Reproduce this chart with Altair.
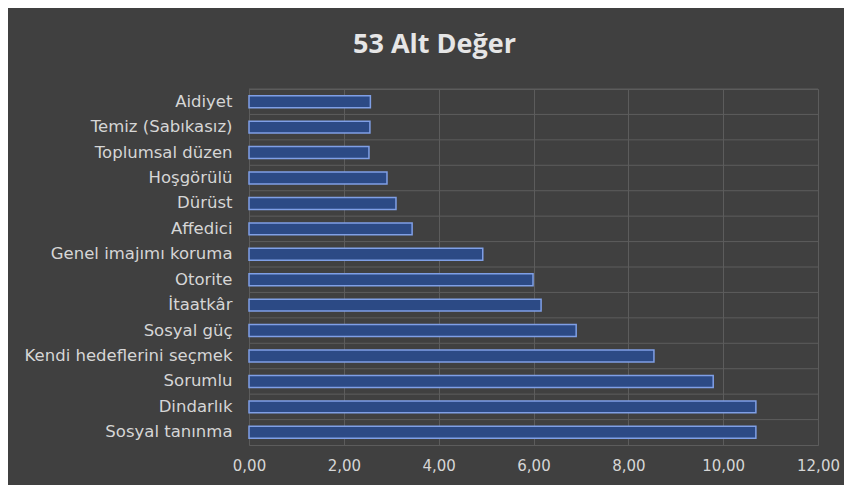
import altair as alt
import pandas as pd

categories = [
    "Aidiyet", "Temiz (Sabıkasız)", "Toplumsal düzen", "Hoşgörülü", "Dürüst",
    "Affedici", "Genel imajımı koruma", "Otorite", "İtaatkâr", "Sosyal güç",
    "Kendi hedeflerini seçmek", "Sorumlu", "Dindarlık", "Sosyal tanınma",
]
values = [2.56, 2.55, 2.53, 2.91, 3.10, 3.44, 4.93, 5.99, 6.16, 6.90,
          8.54, 9.79, 10.69, 10.69]
x_ticks = [0, 2, 4, 6, 8, 10, 12]

df = pd.DataFrame({"cat": categories, "val": values})

BG = "#404040"
GRID = "#5c5c5c"
TXT = "#d6d6d6"
FONT = "Open Sans"
LFONT = "DejaVu Sans"

W, H = 569, 356

yscale = alt.Scale(domain=categories, paddingInner=0, paddingOuter=0)
yaxis = alt.Axis(
    domain=False, ticks=False, grid=False, labelPadding=17,
    labelColor=TXT, labelFont=LFONT, labelFontSize=16.5, title=None,
    labelLimit=300,
)

grid_h = alt.Chart(df).mark_rule(color=GRID, strokeWidth=1).encode(
    y=alt.Y("cat:N", scale=yscale, bandPosition=0, axis=yaxis, sort=categories),
)

bars = alt.Chart(df).mark_bar(
    height={"band": 0.47}, color="#2c4a85", stroke="#7f9fe6", strokeWidth=1.5
).encode(
    x=alt.X(
        "val:Q",
        scale=alt.Scale(domain=[0, 12], nice=False),
        axis=alt.Axis(
            values=x_ticks, format=".2f",
            labelExpr="replace(datum.label, '.', ',')",
            grid=True, gridColor=GRID, gridWidth=1,
            domain=False, ticks=False, labelPadding=13, labelFlush=False,
            labelColor=TXT, labelFont=LFONT, labelFontSize=15,
            title=None,
        ),
    ),
    y=alt.Y("cat:N", scale=yscale, sort=categories, axis=yaxis),
)

chart = alt.layer(grid_h, bars).properties(
    width=W, height=H,
    background=BG,
    padding={"left": 241, "top": 81, "right": 26, "bottom": 40},
    autosize=alt.AutoSizeParams(type="none"),
    title=alt.TitleParams(
        "53 Alt Değer", color="#e6e6e6", font=FONT, fontSize=27,
        fontWeight="bold", anchor="middle", dx=-99, offset=30,
    ),
).configure_view(stroke=GRID, strokeWidth=1)

chart.save("out.html", embed_options={"renderer": "svg", "actions": False})
